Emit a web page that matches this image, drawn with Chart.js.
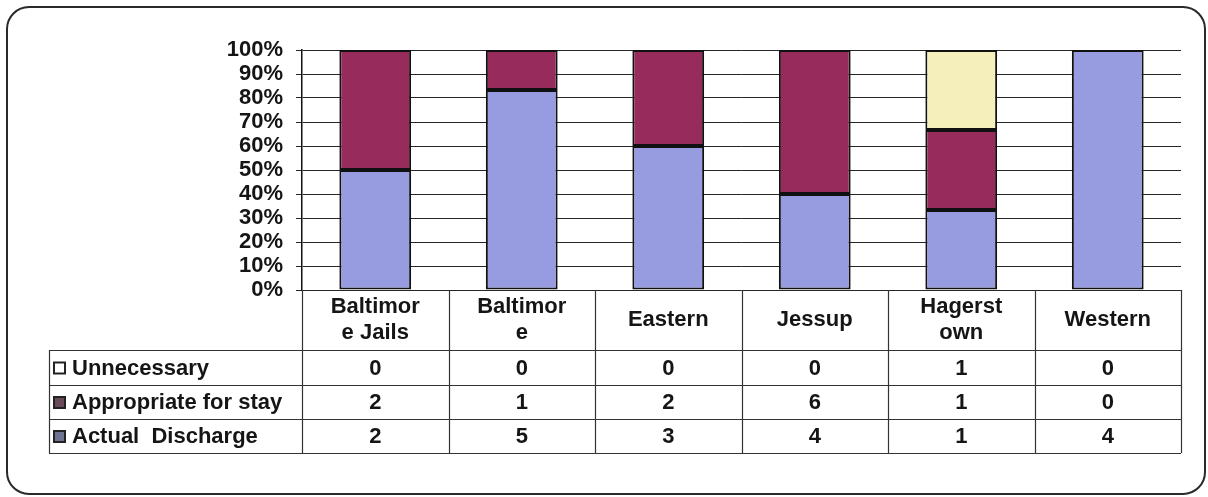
<!DOCTYPE html>
<html>
<head>
<meta charset="utf-8">
<script src="https://cdn.jsdelivr.net/npm/chart.js@4"></script>
<style>
  html, body { margin: 0; padding: 0; background: #fff; }
  #wrap { width: 1208px; height: 497px; }
</style>
</head>
<body>
<div id="wrap"><canvas id="myChart" width="1208" height="497"></canvas></div>
<script>
const categories = [["Baltimor", "e Jails"], ["Baltimor", "e"], ["Eastern"], ["Jessup"], ["Hagerst", "own"], ["Western"]];
const unnecessary = [0, 0, 0, 0, 1, 0];
const appropriate = [2, 1, 2, 6, 1, 0];
const actualDischarge = [2, 5, 3, 4, 1, 4];
const yTicks = [0, 10, 20, 30, 40, 50, 60, 70, 80, 90, 100];

const blue = "#979ce0";
const maroon = "#972b5c";
const yellow = "#f4efbb";
const font = "bold 22px 'Liberation Sans', Arial, sans-serif";

// totals per column, used for the 100% stacking
const totals = categories.map((c, i) => unnecessary[i] + appropriate[i] + actualDischarge[i]);
const pct = arr => arr.map((v, i) => v / totals[i] * 100);

// rows of the data table under the chart (top to bottom)
const tableRows = [
  { label: "Unnecessary", values: unnecessary, key: "#ffffff" },
  { label: "Appropriate for stay", values: appropriate, key: "#6a4a58" },
  { label: "Actual  Discharge", values: actualDischarge, key: "#6f7392" }
];

const frameAndTable = {
  id: "frameAndTable",
  beforeDraw(chart) {
    const ctx = chart.ctx;
    ctx.save();
    ctx.fillStyle = "#fff";
    ctx.fillRect(0, 0, chart.width, chart.height);
    ctx.strokeStyle = "#2a2a2a";
    ctx.lineWidth = 2;
    ctx.beginPath();
    ctx.roundRect(7, 7, 1198, 487, 22);
    ctx.stroke();
    ctx.restore();
  },
  afterDraw(chart) {
    const ctx = chart.ctx;
    const area = chart.chartArea;
    const colW = (area.right - area.left) / categories.length;
    const headTop = area.bottom;
    const headBottom = 350;
    const rowH = [350, 385, 419, 453];
    const tableLeft = 49;

    ctx.save();
    ctx.strokeStyle = "#333";
    ctx.lineWidth = 1.2;

    // vertical lines
    for (let i = 0; i <= categories.length; i++) {
      const x = Math.round(area.left + colW * i) + 0.5;
      ctx.beginPath();
      ctx.moveTo(x, headTop);
      ctx.lineTo(x, rowH[rowH.length - 1]);
      ctx.stroke();
    }
    ctx.beginPath();
    ctx.moveTo(tableLeft + 0.5, rowH[0]);
    ctx.lineTo(tableLeft + 0.5, rowH[rowH.length - 1]);
    ctx.stroke();

    // horizontal lines
    rowH.forEach(y => {
      ctx.beginPath();
      ctx.moveTo(tableLeft, y + 0.5);
      ctx.lineTo(area.right, y + 0.5);
      ctx.stroke();
    });

    ctx.fillStyle = "#151515";
    ctx.font = font;
    ctx.textAlign = "center";
    ctx.textBaseline = "middle";

    // header with category names
    categories.forEach((lines, i) => {
      const cx = area.left + colW * (i + 0.5);
      const mid = (headTop + headBottom) / 2;
      const lh = 26;
      lines.forEach((t, j) => {
        const y = mid + (j - (lines.length - 1) / 2) * lh;
        ctx.fillText(t, cx, y);
      });
    });

    // data rows
    tableRows.forEach((row, r) => {
      const cy = (rowH[r] + rowH[r + 1]) / 2 + 1;
      row.values.forEach((v, i) => {
        ctx.textAlign = "center";
        ctx.fillText(String(v), area.left + colW * (i + 0.5), cy);
      });
      // legend key
      ctx.fillStyle = row.key;
      ctx.fillRect(54, cy - 6, 11, 11);
      ctx.strokeStyle = "#222";
      ctx.lineWidth = 2;
      ctx.strokeRect(54, cy - 6, 11, 11);
      ctx.fillStyle = "#151515";
      ctx.textAlign = "left";
      ctx.fillText(row.label, 72, cy);
    });
    ctx.restore();
  }
};

new Chart(document.getElementById("myChart"), {
  type: "bar",
  data: {
    labels: categories.map(c => c.join("")),
    datasets: [
      { label: "Actual  Discharge", data: pct(actualDischarge), backgroundColor: blue },
      { label: "Appropriate for stay", data: pct(appropriate), backgroundColor: maroon },
      { label: "Unnecessary", data: pct(unnecessary), backgroundColor: yellow }
    ].map(d => Object.assign(d, {
      borderColor: "#111",
      borderWidth: 2,
      borderSkipped: false,
      categoryPercentage: 1,
      barPercentage: 0.49
    }))
  },
  options: {
    responsive: false,
    animation: false,
    layout: { padding: { top: 50, right: 27, bottom: 207, left: 0 } },
    plugins: { legend: { display: false }, tooltip: { enabled: false } },
    scales: {
      x: { stacked: true, display: false },
      y: {
        stacked: true,
        min: 0,
        max: 100,
        afterFit: s => { s.width = 302; },
        afterBuildTicks: s => { s.ticks = yTicks.map(v => ({ value: v })); },
        ticks: {
          autoSkip: false,
          callback: v => v + "%",
          color: "#151515",
          font: { family: "'Liberation Sans', Arial, sans-serif", size: 22, weight: "bold" },
          padding: 13
        },
        grid: { color: "#262626", lineWidth: 1, tickLength: 6 },
        border: { color: "#111", width: 1.5 }
      }
    }
  },
  plugins: [frameAndTable]
});
</script>
</body>
</html>
